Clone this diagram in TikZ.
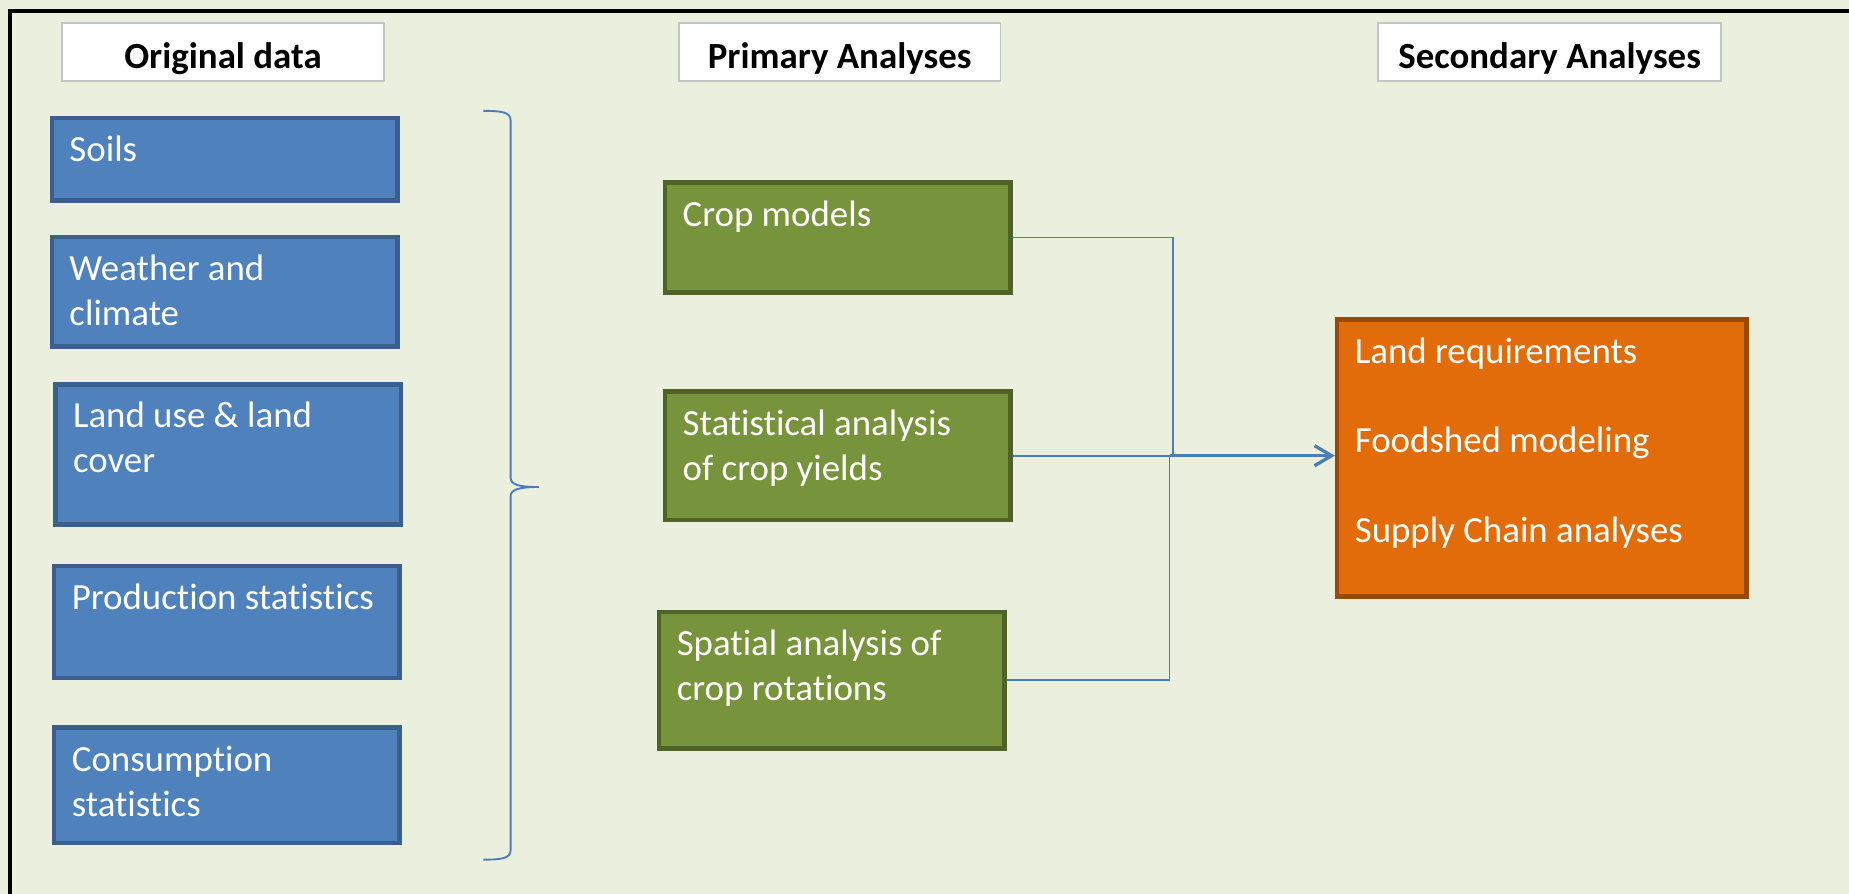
\documentclass[tikz,border=0pt]{standalone}
\usepackage{fontspec}
\setmainfont{Carlito}[Ligatures=NoCommon]
\usetikzlibrary{arrows.meta}
\usetikzlibrary{positioning}

\definecolor{pagebg}{HTML}{EBF0DE}
\definecolor{blueFill}{HTML}{4F81BD}
\definecolor{blueEdge}{HTML}{3A5F8D}
\definecolor{greenFill}{HTML}{77933C}
\definecolor{greenEdge}{HTML}{4F6228}
\definecolor{orangeFill}{HTML}{E36C0A}
\definecolor{orangeEdge}{HTML}{984807}
\definecolor{hdrEdge}{HTML}{C4C4C4}
\definecolor{linkBlue}{HTML}{4A7EBB}

\tikzset{basebox/.style={ draw=#1Edge, fill=#1Fill, line width=2.2pt, text=white,
            anchor=north west, align=flush left, inner xsep=0.3cm, inner ysep=0.2cm,
            text width=5.26cm, text height=0.54cm,
            font=\fontsize{17.8}{21.7}\selectfont },
            hdr/.style={ draw=hdrEdge, fill=white, line width=0.7pt,
            anchor=north west, inner sep=0pt, minimum width=#1, minimum height=0.98cm,
            text height=0.766cm, text depth=0.214cm,
            font=\fontsize{17.8}{21.7}\selectfont\bfseries },
            link/.style={ draw=linkBlue, line width=0.9pt },
            brace/.style={ draw=linkBlue, line width=0.9pt }}

\begin{document}
\begin{tikzpicture}[x=0.02cm,y=-0.02cm]
            \fill[pagebg] (0,0) rectangle (1568,758);
            \useasboundingbox (0,0) rectangle (1568,758);
            \draw[line width=1.7pt] (1568,9.3) -- (8.3,9.3) -- (8.3,758);

            % column headers
            \node[hdr=5.46cm] (hdrorig) at (52,19) {Original data};
            \node[hdr=5.46cm] (hdrprim) at (575,19) {Primary Analyses};
            \node[hdr=5.82cm] (hdrsec) at (1168,19) {Secondary Analyses};

            % original data
            \node[basebox=blue, text depth=0.46cm] (soils) at (42,98) {Soils};
            \node[basebox=blue, text depth=0.92cm] (weather) at (42,199) {Weather and\\climate};
            \node[basebox=blue, text depth=1.44cm] (landuse) at (45,324) {Land use \& land\\cover};
            \node[basebox=blue, text depth=0.96cm] (prodstat) at (44,478) {Production statistics};
            \node[basebox=blue, text depth=1.02cm] (consstat) at (44,615) {Consumption\\statistics};

            \draw[brace] (410,94) .. controls (425,94) and (433,95) .. (433,102) -- (433,405)
                .. controls (433,411) and (440,413) .. (457,413)
                .. controls (440,413) and (433,415) .. (433,421) -- (433,721)
                .. controls (433,728) and (425,729) .. (410,729);

            % primary analyses
            \node[basebox=green, text depth=0.92cm] (cropmod) at (562,153) {Crop models};
            \node[basebox=green, text depth=1.24cm] (statyield) at (562,330) {Statistical analysis\\of crop yields};
            \node[basebox=green, text depth=1.38cm] (spatrot) at (557,517) {Spatial analysis of\\crop rotations};

            % secondary analyses
            \node[basebox=orange, text width=6.34cm, text depth=3.76cm] (landreq) at (1132,269)
                {Land requirements\\[0.76cm]Foodshed modeling\\[0.76cm]Supply Chain analyses};

            \path (statyield.east) ++(133,0) coordinate (joinB) ++(3,0) coordinate (joinA);
            \draw[link] (cropmod.east) -| (joinA);
            \draw[link] (spatrot.east) -| (joinB);
            \draw[link] (statyield.east) -- (joinB);
            \draw[link, line width=1.6pt, -{Straight Barb[length=0.29cm,width=0.34cm]}]
                (joinB) -- (joinB -| landreq.west);
        \end{tikzpicture}
\end{document}
